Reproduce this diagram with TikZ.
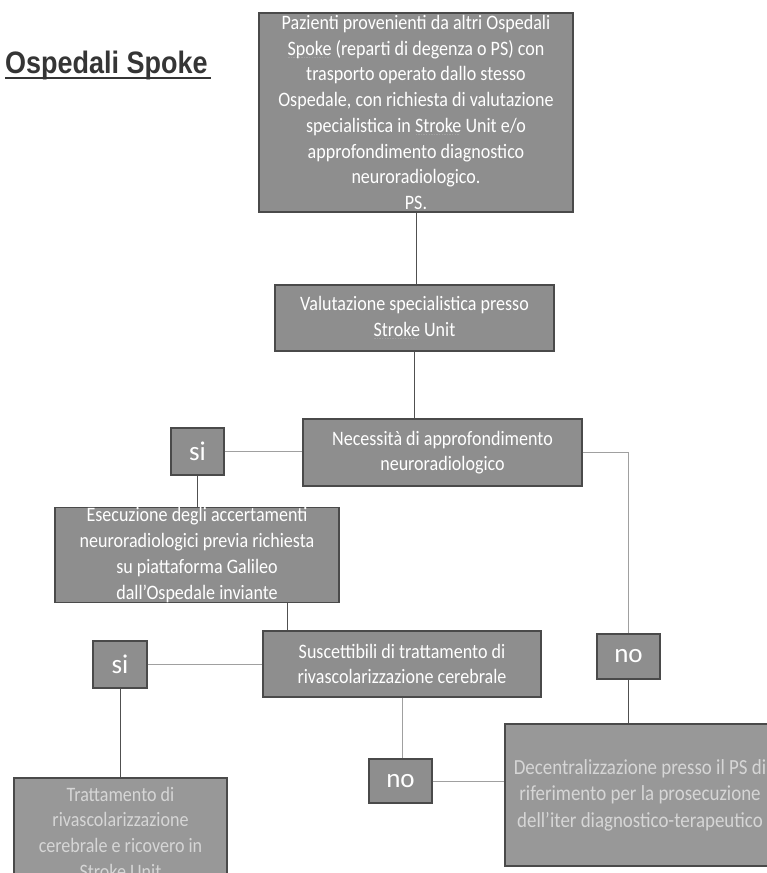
\documentclass[tikz,border=0pt]{standalone}
\usepackage{fontspec}
\setmainfont[FakeStretch=0.88]{Carlito}
\newfontfamily\ynfont{Carlito}
\newfontfamily\titlefont[FakeStretch=0.87]{Liberation Sans}
\definecolor{boxfill}{HTML}{8E8E8E}
\definecolor{boxfillb}{HTML}{989898}
\definecolor{boxborder}{HTML}{4A4A4A}
\definecolor{linedark}{HTML}{505050}
\definecolor{linelight}{HTML}{A0A0A0}
\definecolor{paletext}{HTML}{D6D6D6}
\definecolor{titlecol}{HTML}{353535}
\newsavebox\sqgbox
\newcommand\sqg[1]{\sbox\sqgbox{#1}\rlap{\textcolor{linelight}{\leaders\hbox to 2.6pt{\hss\rule[-3pt]{1.4pt}{1.1pt}\hss}\hskip\wd\sqgbox}}\usebox\sqgbox}
\tikzset{
  box/.style={draw=boxborder, line width=1.3pt, fill=boxfill, text=white,
    align=center, inner sep=0pt, font=\fontsize{20.5}{25.7}\selectfont},
  palebox/.style={box, fill=boxfillb, text=paletext},
  ynbox/.style={box, font=\ynfont\fontsize{27}{27}\selectfont},
  dl/.style={draw=linedark, line width=1pt},
  ll/.style={draw=linelight, line width=0.9pt},
}
\begin{document}
\begin{tikzpicture}[x=1pt,y=-1pt]
\useasboundingbox[fill=white] (0,0) rectangle (766,873);

% title
\node[anchor=base west, inner sep=0pt, text=titlecol,
  font=\titlefont\bfseries\fontsize{31}{31}\selectfont] (title) at (5,73) {Ospedali Spoke};
\draw[titlecol, line width=2pt] ([yshift=-5pt]title.base west) -- ([yshift=-5pt,xshift=3pt]title.base east);

% boxes
\node[box, minimum width=314, minimum height=199] (top) at (416,112.5)
  {Pazienti provenienti da altri Ospedali\\
   \sqg{Spoke} (reparti di degenza o PS) con\\
   trasporto operato dallo stesso\\
   Ospedale, con richiesta di valutazione\\
   specialistica in \sqg{Stroke} Unit e/o\\
   approfondimento diagnostico\\
   neuroradiologico.\\
   PS.};
\node[box, minimum width=279, minimum height=66] (val) at (414.5,318)
  {Valutazione specialistica presso\\ \sqg{Stroke} Unit};
\node[box, minimum width=279, minimum height=67] (nec) at (442.5,452.5)
  {Necessità di approfondimento\\ neuroradiologico};
\node[ynbox, minimum width=53, minimum height=47] (si1) at (197.5,451.5) {si};
\node[box, minimum width=284, minimum height=94] (ese) at (197,555)
  {Esecuzione degli accertamenti\\ neuroradiologici previa richiesta\\
   su piattaforma Galileo\\ dall’Ospedale inviante};
\node[box, minimum width=278, minimum height=66] (sus) at (402,664)
  {Suscettibili di trattamento di\\ rivascolarizzazione cerebrale};
\node[ynbox, minimum width=54, minimum height=47] (si2) at (120,664.5) {si};
\node[ynbox, minimum width=63, minimum height=45] (no1) at (628.5,656.5) {no};
\node[ynbox, minimum width=63, minimum height=44] (no2) at (400.5,781) {no};
\node[palebox, minimum width=270, minimum height=142,
  font=\fontsize{21.5}{26.5}\selectfont] (dec) at (640,795)
  {Decentralizzazione presso il PS di\\ riferimento per la prosecuzione\\
   dell’iter diagnostico-terapeutico};
\node[palebox, minimum width=213, minimum height=109] (trat) at (120.5,832.5)
  {Trattamento di\\ rivascolarizzazione\\ cerebrale e ricovero in\\ Stroke Unit};

% connectors
\draw[dl] (top.south) -- (top.south |- val.north);
\draw[dl] (val.south) -- (val.south |- nec.north);
\draw[ll] (si1.east) -- (si1.east -| nec.west);
\draw[ll] (nec.east) -| (no1.north);
\draw[dl] (si1.south) -- (si1.south |- ese.north);
\draw[dl] ([xshift=90pt]ese.south) -- ([xshift=90pt]ese.south |- sus.north);
\draw[ll] (si2.east) -- (si2.east -| sus.west);
\draw[ll] (sus.south) -- (sus.south |- no2.north);
\draw[ll] (no2.east) -- (no2.east -| dec.west);
\draw[dl] (no1.south) -- (no1.south |- dec.north);
\draw[dl] (si2.south) -- (si2.south |- trat.north);
\end{tikzpicture}
\end{document}
